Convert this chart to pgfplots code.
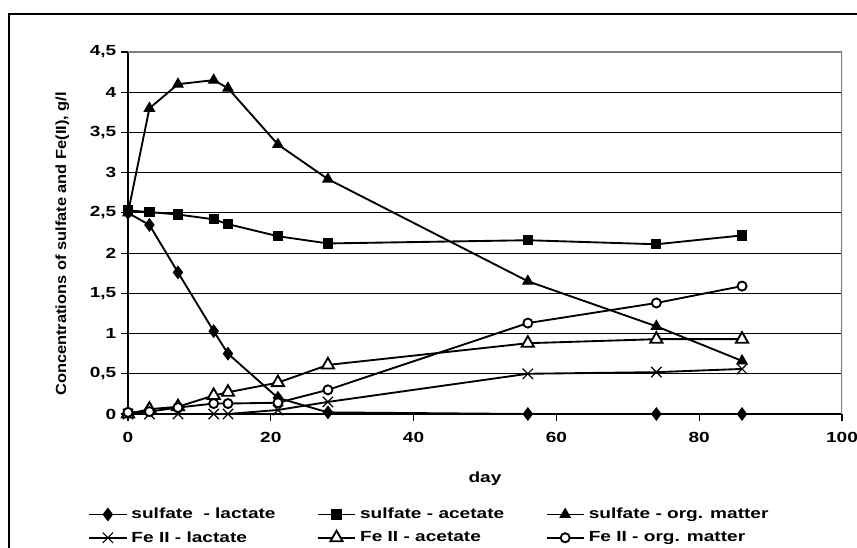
\documentclass[border=0pt]{standalone}
\usepackage{pgfplots}
\pgfplotsset{compat=1.18}
\usepackage{fontspec}
\setmainfont{Liberation Sans}
\newfontfamily\hfont[FakeStretch=1.3]{Liberation Sans}
\newfontfamily\vfont[FakeStretch=1.12]{Liberation Sans}
\begin{document}
\begin{tikzpicture}
\useasboundingbox (0pt,0pt) rectangle (642.75pt,411pt);
\draw[line width=1pt] (6.75pt,0pt) -- (6.75pt,400.5pt) -- (642.75pt,400.5pt);
\begin{axis}[
  at={(96pt,100.5pt)}, anchor=south west,
  scale only axis, width=535.5pt, height=271.5pt,
  xmin=0, xmax=100, ymin=0, ymax=4.5,
  xtick={0,20,40,60,80,100}, xticklabels={0,20,40,60,80,100},
  ytick={0,0.5,1,1.5,2,2.5,3,3.5,4,4.5},
  yticklabels={0,{0,5},1,{1,5},2,{2,5},3,{3,5},4,{4,5}},
  axis lines=left, axis line style={-, line width=1pt},
  tick align=outside, major tick length=5.25pt,
  tick style={black, line width=0.8pt},
  ymajorgrids, grid style={black, line width=0.75pt},
  tick label style={font=\hfont\fontsize{11}{12}\selectfont\bfseries},
  xticklabel style={yshift=-5pt},
  xlabel={day},
  xlabel style={font=\hfont\fontsize{11}{12}\selectfont\bfseries, at={(axis description cs:0.5,-0.18)}, anchor=center},
  ylabel={Concentrations of sulfate and Fe(II), g/l},
  ylabel style={font=\vfont\fontsize{11}{13}\selectfont\bfseries, at={(axis description cs:-0.092,0.47)}, anchor=center},
  legend columns=3,
  legend cell align=left,
  legend image code/.code={\draw[mark repeat=2,mark phase=2,#1] plot coordinates {(0pt,0pt) (14pt,0pt) (28pt,0pt)};},
  legend style={draw=none, fill=none, inner sep=0pt, at={(axis description cs:-0.056,-0.252)}, anchor=north west,
    font=\hfont\fontsize{11}{12}\selectfont\bfseries, /tikz/column sep=1pt, row sep=4pt,
    /tikz/every even column/.append style={column sep=29pt}},
  every axis plot/.append style={black, line width=1.4pt, mark options={solid, line width=0.9pt}},
]
\addplot[mark=diamond*, mark size=4.5pt] coordinates {(0,2.5) (3,2.35) (7,1.76) (12,1.03) (14,0.75) (21,0.2) (28,0.02) (56,0) (74,0) (86,0)};
\addlegendentry{sulfate\ \ - lactate}
\addplot[mark=square*, mark size=3.4pt] coordinates {(0,2.53) (3,2.51) (7,2.48) (12,2.42) (14,2.36) (21,2.21) (28,2.12) (56,2.16) (74,2.11) (86,2.22)};
\addlegendentry{sulfate - acetate}
\addplot[mark=triangle*, mark size=4.3pt] coordinates {(0,2.5) (3,3.8) (7,4.1) (12,4.15) (14,4.05) (21,3.35) (28,2.92) (56,1.65) (74,1.09) (86,0.66)};
\addlegendentry{sulfate - org. matter}
\addplot[mark=x, mark size=5.5pt] coordinates {(0,0) (3,0) (7,0) (12,0) (14,0) (21,0.05) (28,0.15) (56,0.5) (74,0.52) (86,0.56)};
\addlegendentry{Fe II - lactate}
\addplot[mark=triangle*, mark size=5.3pt, mark options={fill=white}] coordinates {(0,0) (3,0.06) (7,0.09) (12,0.23) (14,0.27) (21,0.39) (28,0.61) (56,0.88) (74,0.93) (86,0.93)};
\addlegendentry{Fe II - acetate}
\addplot[mark=*, mark size=3.4pt, mark options={fill=white}] coordinates {(0,0.02) (3,0.03) (7,0.08) (12,0.13) (14,0.13) (21,0.14) (28,0.3) (56,1.13) (74,1.38) (86,1.59)};
\addlegendentry{Fe II - org. matter}
\draw[gray, line width=0.9pt] (rel axis cs:0,1) -- (rel axis cs:1,1) -- (rel axis cs:1,0);
\end{axis}
\end{tikzpicture}
\end{document}
